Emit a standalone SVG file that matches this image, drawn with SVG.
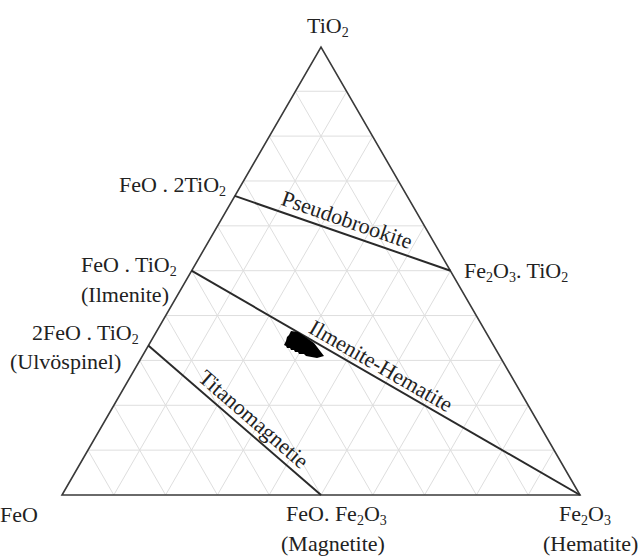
<svg xmlns="http://www.w3.org/2000/svg" width="641" height="556" viewBox="0 0 641 556">
<style>
.grid{stroke:#dedede;stroke-width:1;fill:none}
.frame{stroke:#3a3a3a;stroke-width:1.6;fill:none;stroke-linejoin:miter}
.key{stroke:#2a2a2a;stroke-width:2;fill:none}
text{font-family:"Liberation Serif","Times New Roman",serif;font-size:22px;fill:#222}
.sub{font-size:14px}
</style>
<rect width="641" height="556" fill="#fff"/>
<g id="grid" class="grid">
<path d="M87.9,450.14H554.1M113.8,405.28H528.2M139.7,360.42H502.3M165.6,315.56H476.4M191.5,270.7H450.5M217.4,225.84H424.6M243.3,180.98H398.7M269.2,136.12H372.8M295.1,91.26H346.9"/>
<path d="M113.8,495L346.9,91.26M165.6,495L372.8,136.12M217.4,495L398.7,180.98M269.2,495L424.6,225.84M321,495L450.5,270.7M372.8,495L476.4,315.56M424.6,495L502.3,360.42M476.4,495L528.2,405.28M528.2,495L554.1,450.14"/>
<path d="M113.8,495L87.9,450.14M165.6,495L113.8,405.28M217.4,495L139.7,360.42M269.2,495L165.6,315.56M321,495L191.5,270.7M372.8,495L217.4,225.84M424.6,495L243.3,180.98M476.4,495L269.2,136.12M528.2,495L295.1,91.26"/>
</g>
<g id="triangle">
<polygon class="frame" points="62,495 580,495 321,47"/>
</g>
<g id="connectors">
<line class="key" x1="234.7" y1="195.9" x2="450.5" y2="270.7"/>
<line class="key" x1="191.5" y1="270.7" x2="580" y2="495"/>
<line class="key" x1="148.3" y1="345.5" x2="321" y2="495"/>
</g>
<g id="data-points">
<polygon fill="#000" points="284,345 286,346 287,348 290,348 291,350 294,350 295,352 298,352 299,354 304,354 306,356 317,358 324,356 314,343 304,336 298,332 291,331 289,335 287,337 286,341"/>
</g>
<g id="node-tio2"><text x="307" y="33">TiO<tspan class="sub" dy="4">2</tspan></text></g>
<g id="node-feo"><text x="0" y="522">FeO</text></g>
<g id="node-magnetite"><text x="286" y="521">FeO. Fe<tspan class="sub" dy="4">2</tspan><tspan dy="-4">O</tspan><tspan class="sub" dy="4">3</tspan></text><text x="281" y="551">(Magnetite)</text></g>
<g id="node-hematite"><text x="559" y="521">Fe<tspan class="sub" dy="4">2</tspan><tspan dy="-4">O</tspan><tspan class="sub" dy="4">3</tspan></text><text x="543" y="551">(Hematite)</text></g>
<g id="node-feo2tio2"><text x="119" y="192">FeO . 2TiO<tspan class="sub" dy="4">2</tspan></text></g>
<g id="node-ilmenite"><text x="81" y="272">FeO . TiO<tspan class="sub" dy="4">2</tspan></text><text x="81" y="302">(Ilmenite)</text></g>
<g id="node-ulvospinel"><text x="32" y="340">2FeO . TiO<tspan class="sub" dy="4">2</tspan></text><text x="10" y="369">(Ulvöspinel)</text></g>
<g id="node-fe2o3tio2"><text x="464" y="278">Fe<tspan class="sub" dy="4">2</tspan><tspan dy="-4">O</tspan><tspan class="sub" dy="4">3</tspan><tspan dy="-4">. TiO</tspan><tspan class="sub" dy="4">2</tspan></text></g>
<g id="labels">
<text transform="translate(278,210.2) rotate(19.1)" y="-6">Pseudobrookite</text>
<text transform="translate(305,336.3) rotate(30)" y="-5">Ilmenite-Hematite</text>
<text transform="translate(193,384.2) rotate(40.9)" y="-6">Titanomagnetie</text>
</g>
</svg>
